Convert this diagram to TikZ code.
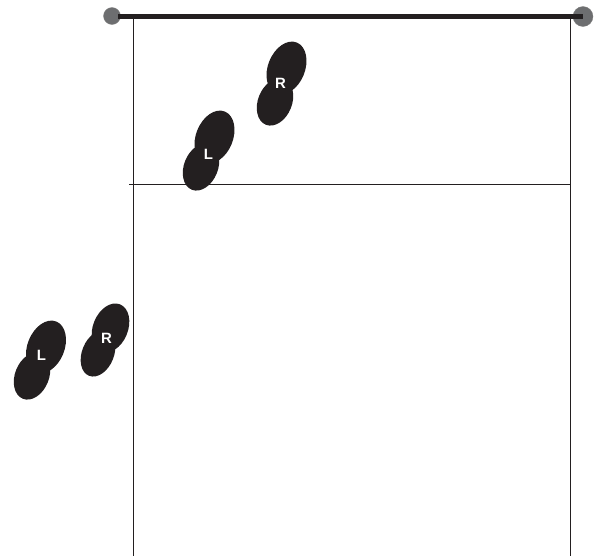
\documentclass[tikz,border=0pt]{standalone}
\usepackage{fontspec}
\usetikzlibrary{shapes.geometric}
\setmainfont{Liberation Sans}
\definecolor{inkblack}{HTML}{231F20}
\definecolor{postgray}{HTML}{6D6E70}
\tikzset{
  courtline/.style={draw=inkblack, line width=0.7pt},
  netline/.style={draw=inkblack, line width=2.5pt},
  post/.style={fill=postgray, draw=gray, line width=0.2pt},
  footlabel/.style={text=white, font=\bfseries\fontsize{8.5}{8.5}\selectfont, inner sep=0pt},
  sole/.style={ellipse, fill=inkblack, inner sep=0pt, rotate=-22, minimum width=0.74cm, minimum height=1.10cm},
  heel/.style={ellipse, fill=inkblack, inner sep=0pt, rotate=-22, minimum width=0.68cm, minimum height=0.98cm}
}
\begin{document}
\begin{tikzpicture}[x=0.02cm, y=0.02cm]
\useasboundingbox (0,0) rectangle (602,-556);
\coordinate (NetL) at (118,-16.5);
\coordinate (NetR) at (583,-16.5);
\coordinate (SideLT) at (133.5,-17);
\coordinate (SideLB) at (133.5,-556);
\coordinate (SideRT) at (570.5,-17);
\coordinate (SideRB) at (570.5,-556);
\coordinate (AttackL) at (129,-184.5);
\coordinate (AttackR) at (570.5,-184.5);

% court
\draw[courtline] (SideLT) -- (SideLB);
\draw[courtline] (SideRT) -- (SideRB);
\draw[courtline] (AttackL) -- (AttackR);

% net and posts
\filldraw[post] (112,-16) circle (8.5);
\filldraw[post] (583,-16.5) circle (10);
\draw[netline] (NetL) -- (NetR);

% front player
\node[heel] (frontRheel) at (275,-102) {};
\node[sole] (frontRsole) at (286.5,-68) {};
\node[footlabel] (frontR) at (280.5,-83.5) {R};
\node[heel] (frontLheel) at (201,-167) {};
\node[sole] (frontLsole) at (214.5,-137) {};
\node[footlabel] (frontL) at (208.5,-154.5) {L};

% back player
\node[heel, minimum width=0.64cm, minimum height=0.96cm] (backRheel) at (98,-353.5) {};
\node[sole, minimum width=0.70cm, minimum height=1.02cm] (backRsole) at (110.5,-328) {};
\node[footlabel] (backR) at (106.5,-338) {R};
\node[heel] (backLheel) at (32,-376) {};
\node[sole] (backLsole) at (46,-347) {};
\node[footlabel] (backL) at (41.5,-355.5) {L};
\end{tikzpicture}
\end{document}
